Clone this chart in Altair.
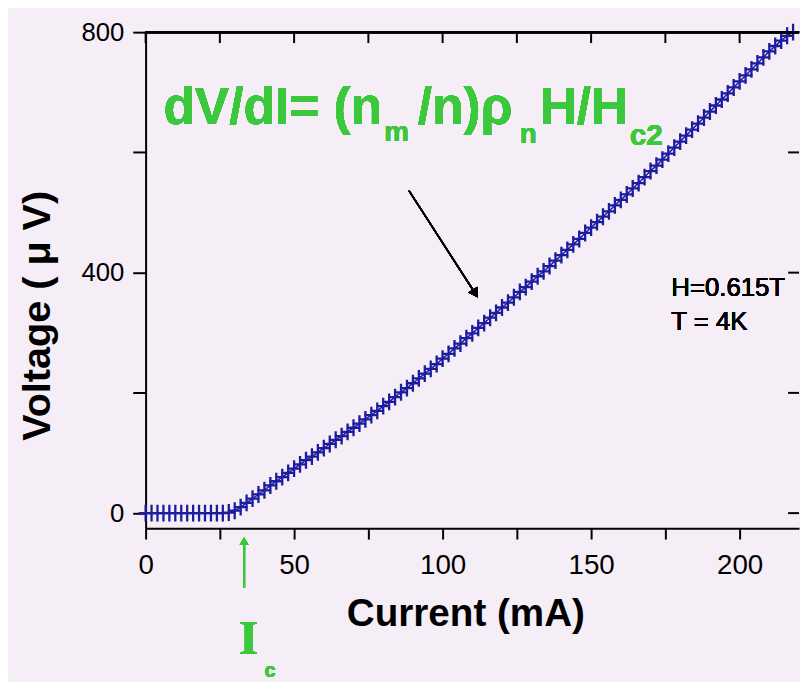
import altair as alt
import pandas as pd

# ---- data ----
current_mA = [0, 2, 4, 6, 8, 10, 12, 14, 16, 18, 20, 22, 24, 26, 28, 30, 32, 34, 36, 38,
              40, 42, 44, 46, 48, 50, 52, 54, 56, 58, 60, 62, 64, 66, 68, 70, 72, 74, 76, 78,
              80, 82, 84, 86, 88, 90, 92, 94, 96, 98, 100, 102, 104, 106, 108, 110, 112, 114, 116, 118,
              120, 122, 124, 126, 128, 130, 132, 134, 136, 138, 140, 142, 144, 146, 148, 150, 152, 154, 156, 158,
              160, 162, 164, 166, 168, 170, 172, 174, 176, 178, 180, 182, 184, 186, 188, 190, 192, 194, 196, 198,
              200, 202, 204, 206, 208, 210, 212, 214, 216, 218]
voltage_uV = [0, 0, 0, 0, 0, 0, 0, 0, 0, 0, 0, 0, 0, 0, 1, 4, 10, 17, 24, 31,
              38, 46, 53, 60, 67, 74, 81, 88, 94, 101, 108, 115, 122, 128, 135, 142, 149, 156, 163, 170,
              178, 185, 193, 201, 208, 216, 224, 232, 240, 248, 257, 265, 274, 282, 291, 299, 308, 316, 325, 333,
              342, 350, 359, 368, 376, 385, 394, 402, 411, 420, 429, 438, 447, 456, 466, 475, 484, 493, 502, 512,
              521, 530, 540, 549, 559, 569, 578, 588, 598, 608, 618, 628, 638, 648, 658, 668, 678, 688, 698, 708,
              718, 728, 738, 748, 758, 768, 777, 786, 794, 800]

x_ticks = [0, 25, 50, 75, 100, 125, 150, 175, 200]
y_ticks = [0, 200, 400, 600, 800]

df = pd.DataFrame({"I": current_mA, "V": voltage_uV})
xt = pd.DataFrame({"t": x_ticks})
yt = pd.DataFrame({"t": y_ticks})

W, H = 660, 501
GREEN = "#3cc83c"
BLUE = "#1c1ca0"
FONT = "Liberation Sans"

xscale = alt.Scale(domain=[0, 220], nice=False, zero=False)
yscale = alt.Scale(domain=[-25, 800], nice=False, zero=False)

x_enc = alt.X("I:Q", scale=xscale, axis=alt.Axis(
    values=x_ticks, labelExpr="datum.value % 50 == 0 ? datum.label : ''",
    title="Current (mA)", titleFontSize=39, titleFontWeight="bold", titleFont=FONT,
    titleX=323, titleY=98, titleBaseline="alphabetic", titleAlign="center",
    labelFontSize=28, labelFont=FONT, labelPadding=13, labelColor="black",
    tickSize=11, tickWidth=2, tickColor="black", domainWidth=2, domainColor="black",
    grid=False, labelFlush=False))
y_enc = alt.Y("V:Q", scale=yscale, axis=alt.Axis(
    values=y_ticks, labelExpr="datum.value % 400 == 0 ? datum.label : ''",
    title="Voltage (   μ  V)", titleFontSize=40, titleFontWeight="bold", titleFont=FONT,
    titleX=-109, titleY=286, titleAngle=270, titleAlign="center", titleBaseline="middle",
    labelFontSize=26, labelFont=FONT, labelPadding=9, labelColor="black",
    tickSize=13, tickWidth=2, tickColor="black", domainWidth=2, domainColor="black",
    grid=False, labelFlush=False))

line = alt.Chart(df).mark_line(color=BLUE, strokeWidth=1.5).encode(x=x_enc, y=y_enc)
pts = alt.Chart(df).mark_point(
    shape="M0,-1L0,1M-0.8,0L0.8,0", size=289, filled=False, color=BLUE, strokeWidth=2.3, opacity=1
).encode(x="I:Q", y="V:Q")

top_line = alt.Chart(xt).mark_rule(color="black", strokeWidth=2).encode(
    x=alt.value(0), x2=alt.value(W), y=alt.value(0))
top_ticks = alt.Chart(xt).mark_rule(color="black", strokeWidth=2).encode(
    x=alt.X("t:Q", scale=xscale), y=alt.value(0), y2=alt.value(11))
right_ticks = alt.Chart(yt).mark_rule(color="black", strokeWidth=2).encode(
    y=alt.Y("t:Q", scale=yscale), x=alt.value(W), x2=alt.value(W - 11))

def txt(s, x, y, size, color=GREEN, weight="bold", font=FONT, align="left", baseline="alphabetic"):
    return alt.Chart(xt).mark_text(
        text=s, fontSize=size, fontWeight=weight, color=color, font=font,
        align=align, baseline=baseline).encode(x=alt.value(x), y=alt.value(y))

formula = [
    txt("dV/dI= (n", 18, 93, 52),
    txt("m", 241, 110, 28),
    txt("/n)ρ", 275, 93, 52),
    txt("n", 378, 112, 28),
    txt("H/H", 398, 93, 52),
    txt("c2", 489, 114, 30),
]
params = [
    txt("H=0.615T", 531, 266, 26, color="black", weight="normal"),
    txt("T = 4K", 531, 301, 26, color="black", weight="normal"),
]
arrow_line = alt.Chart(xt).mark_rule(color="black", strokeWidth=1.5).encode(
    x=alt.value(266), y=alt.value(160), x2=alt.value(333), y2=alt.value(264))
arrow_head = alt.Chart(xt).mark_point(shape="triangle-down", size=120, filled=True,
                                      color="black", angle=327, opacity=1).encode(
    x=alt.value(333), y=alt.value(264))

ic_line = alt.Chart(xt).mark_rule(color=GREEN, strokeWidth=2).encode(
    x=alt.value(99.5), y=alt.value(512), x2=alt.value(99.5), y2=alt.value(561))
ic_head = alt.Chart(xt).mark_point(shape="triangle-up", size=80, filled=True,
                                   color=GREEN, opacity=1).encode(
    x=alt.value(99.5), y=alt.value(514))
ic_text = [
    txt("I", 104, 628, 50, font="Liberation Serif", align="center"),
    txt("c", 120, 651, 20),
]

chart = alt.layer(
    line, pts, top_line, top_ticks, right_ticks, *formula, *params,
    arrow_line, arrow_head, ic_line, ic_head, *ic_text
).properties(
    width=W, height=H,
    autosize=alt.AutoSizeParams(type="none"),
    padding={"left": 139, "top": 21, "right": 1, "bottom": 152},
    background="#f6eef7",
).configure_view(stroke=None)

chart.save("out.html", embed_options={"renderer": "svg", "actions": False})
